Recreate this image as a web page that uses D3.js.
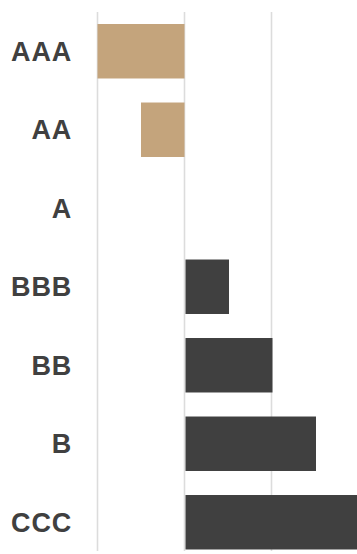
<!DOCTYPE html>
<html>
<head>
<meta charset="utf-8">
<script src="https://cdn.jsdelivr.net/npm/d3@7"></script>
<style>
  body { margin: 0; background: #fff; }
  svg { display: block; }
</style>
</head>
<body>
<div id="chart"></div>
<script>
const ratings = ['AAA', 'AA', 'A', 'BBB', 'BB', 'B', 'CCC'];
const values = [-2, -1, 0, 1, 2, 3, 4];
const gridTicks = [-2, 0, 2, 4];

const width = 357, height = 554;
const margin = {top: 12, left: 97.5};

const svg = d3.select('#chart')
    .append('svg')
    .attr('width', width)
    .attr('height', height);

const x = d3.scaleLinear()
    .domain([-2, 4])
    .range([margin.left, margin.left + 3 * 87]);

const y = d3.scaleBand()
    .domain(ratings)
    .range([margin.top, margin.top + 549.5])
    .paddingInner(0.306)
    .paddingOuter(0.153);

// lignes de grille
svg.append('g')
    .selectAll('line')
    .data(gridTicks)
    .enter()
    .append('line')
    .attr('x1', d => x(d))
    .attr('x2', d => x(d))
    .attr('y1', margin.top)
    .attr('y2', 551)
    .attr('stroke', '#dcdcdc')
    .attr('stroke-width', 1.6);

svg.append('g')
    .selectAll('rect')
    .data(ratings)
    .enter()
    .append('rect')
    .attr('x', (d, i) => x(Math.min(0, values[i])) + (values[i] > 0 ? 1 : 0))
    .attr('y', d => y(d))
    .attr('width', (d, i) => Math.abs(x(values[i]) - x(0)))
    .attr('height', y.bandwidth())
    .attr('fill', (d, i) => values[i] < 0 ? '#c4a47c' : '#404040');

svg.append('g')
    .selectAll('text')
    .data(ratings)
    .enter()
    .append('text')
    .attr('x', 72)
    .attr('y', d => y(d) + y.bandwidth() / 2)
    .attr('dy', '0.36em')
    .attr('text-anchor', 'end')
    .style('font-family', '"Liberation Sans", Arial, sans-serif')
    .style('font-weight', 'bold')
    .style('font-size', '27px')
    .style('letter-spacing', '0.8px')
    .attr('fill', '#404040')
    .text(d => d);
</script>
</body>
</html>
